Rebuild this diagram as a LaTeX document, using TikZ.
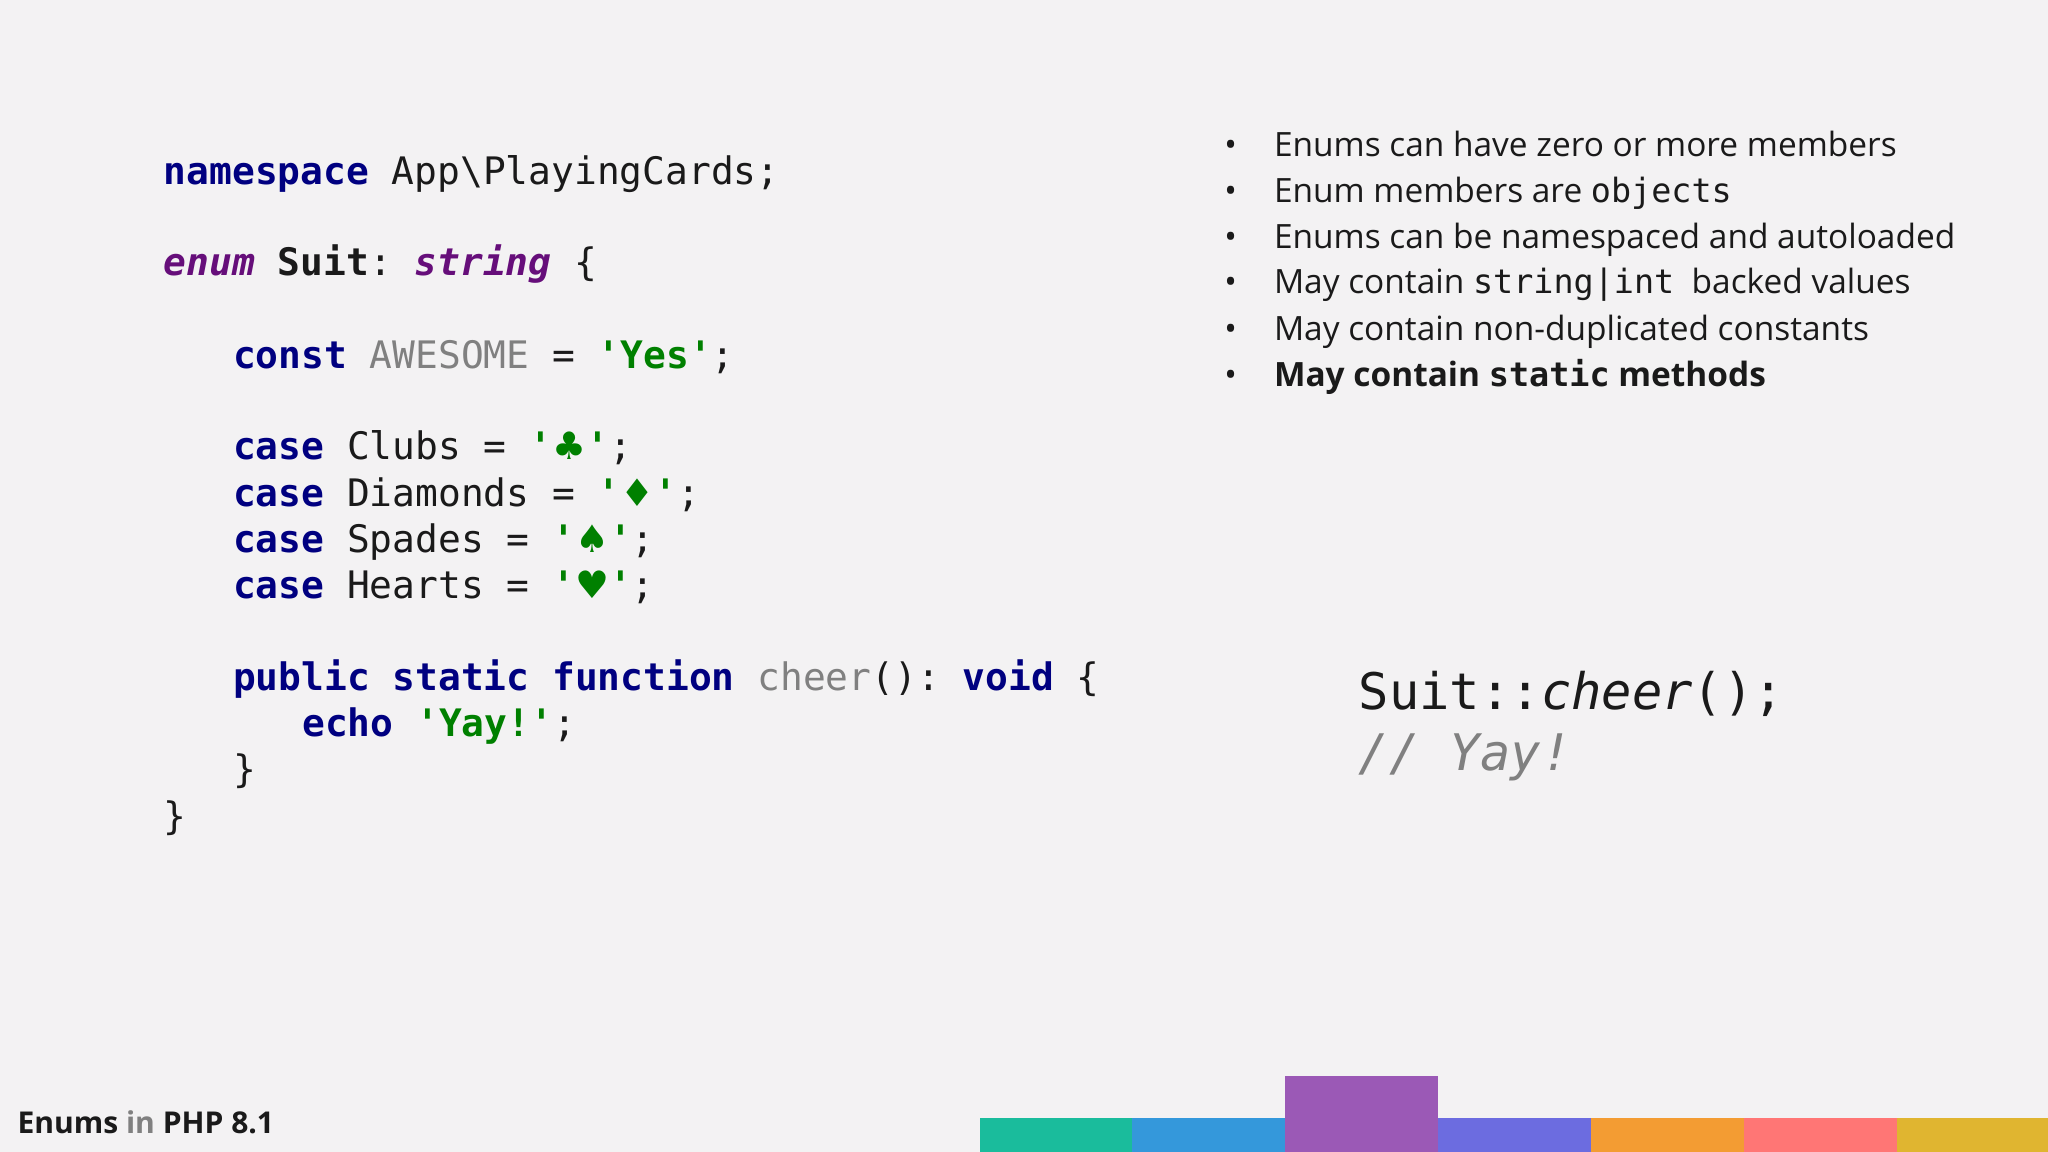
\documentclass[tikz,border=0pt]{standalone}
\usepackage{fontspec}
\setmainfont{Open Sans}
\setmonofont{DejaVu Sans Mono}
\newfontfamily\symfont{DejaVu Sans}
\definecolor{bg}{HTML}{F3F2F3}
\definecolor{kw}{HTML}{000080}
\definecolor{str}{HTML}{008000}
\definecolor{pur}{HTML}{660E7A}
\definecolor{gr}{HTML}{808080}
\definecolor{ink}{HTML}{1A1A1A}
\definecolor{cA}{HTML}{1ABC9C}
\definecolor{cB}{HTML}{3498DB}
\definecolor{cC}{HTML}{9B59B6}
\definecolor{cD}{HTML}{6C6CE0}
\definecolor{cE}{HTML}{F39C33}
\definecolor{cF}{HTML}{FF7675}
\definecolor{cG}{HTML}{E0B530}
\newcommand{\K}[1]{\textcolor{kw}{\bfseries #1}}
\newcommand{\St}[1]{\textcolor{str}{\bfseries #1}}
\newcommand{\Pu}[1]{\textcolor{pur}{\bfseries\itshape #1}}
\newcommand{\Sy}[1]{{\symfont #1}}
\begin{document}
\begin{tikzpicture}[x=0.5pt,y=-0.5pt,
  code/.style={anchor=base west,inner sep=0,font=\ttfamily\fontsize{14.5}{17}\selectfont,text=ink},
  bul/.style={anchor=base west,inner sep=0,font=\fontsize{12.8}{15}\selectfont,text=ink},
  dot/.style={anchor=base west,inner sep=0,font=\fontsize{12.8}{15}\selectfont,text=ink},
  big/.style={anchor=base west,inner sep=0,font=\ttfamily\fontsize{19.3}{22}\selectfont,text=ink}]
\fill[bg] (0,0) rectangle (1568,882);
\useasboundingbox (0,0) rectangle (1568,882);
\node[code] (l1) at (125,141) {\K{namespace} App\textbackslash PlayingCards;};
\node[code] (l2) at (125,211) {\Pu{enum} \textbf{Suit}: \Pu{string} \{};
\node[code] (l3) at (178,282) {\K{const} \textcolor{gr}{AWESOME} = \St{'Yes'};};
\node[code] (l4) at (178,352) {\K{case} Clubs = \St{'\Sy{♣}'};};
\node[code] (l5) at (178,388) {\K{case} Diamonds = \St{'\Sy{♦}'};};
\node[code] (l6) at (178,423) {\K{case} Spades = \St{'\Sy{♠}'};};
\node[code] (l7) at (178,458) {\K{case} Hearts = \St{'\Sy{♥}'};};
\node[code] (l8) at (178,529) {\K{public} \K{static} \K{function} \textcolor{gr}{cheer}(): \K{void} \{};
\node[code] (l9) at (231,564) {\K{echo} \St{'Yay!'};};
\node[code] (l10) at (178,599) {\}};
\node[code] (l11) at (125,635) {\}};
\foreach \y/\t [count=\i] in {120/{Enums can have zero or more members},
  155/{Enum members are \texttt{objects}},
  190/{Enums can be namespaced and autoloaded},
  225/{May contain \texttt{string|int}\ \ backed values},
  261/{May contain non-duplicated constants},
  296/{\textbf{May contain \texttt{static} methods}}}{
  \node[dot] (d\i) at (937,\y) {•};
  \node[bul] (b\i) at (975,\y) {\t};
}
\node[big] (c1) at (1040,543) {Suit::\textit{cheer}();};
\node[big,text=gr] (c2) at (1040,590) {\textit{// Yay!}};
\node[anchor=base west,inner sep=0,font=\bfseries\fontsize{11.5}{14}\selectfont,text=ink] (ft) at (13,868) {Enums \textcolor{gr}{in} PHP 8.1};
\fill[cA] (750,856) rectangle (867,882);
\fill[cB] (867,856) rectangle (984,882);
\fill[cC] (984,824) rectangle (1101,882);
\fill[cD] (1101,856) rectangle (1218,882);
\fill[cE] (1218,856) rectangle (1335,882);
\fill[cF] (1335,856) rectangle (1452,882);
\fill[cG] (1452,856) rectangle (1568,882);
\end{tikzpicture}
\end{document}
